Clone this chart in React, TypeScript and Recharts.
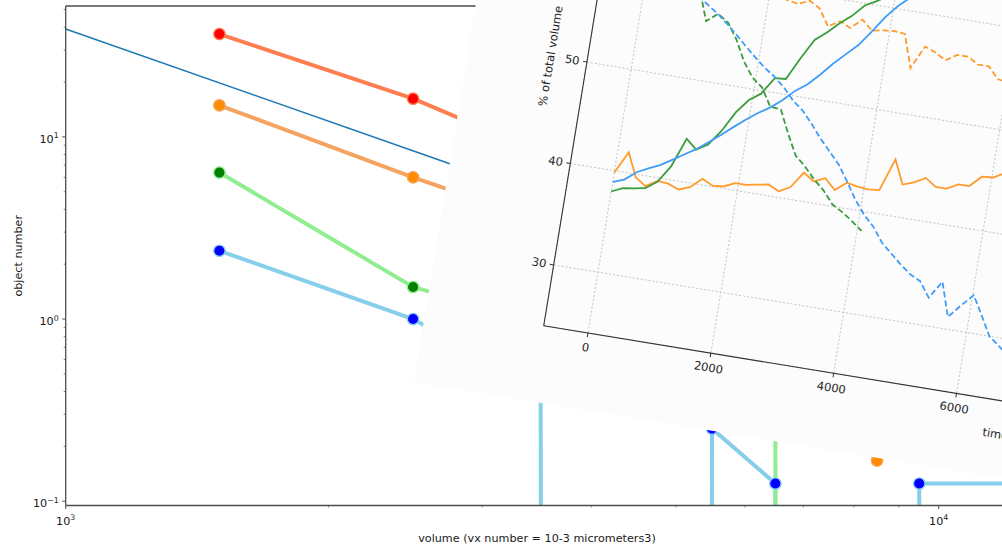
import React from 'react';
import { LineChart, Line, XAxis, YAxis, CartesianGrid, ReferenceLine } from 'recharts';

// main log-log plot: object counts per volume bin
const volumes = [1500, 2500, 3500, 4500, 5500, 6500, 7500, 8500, 9500, 12500];
const redCounts = [36.7, 16.2, 8.2, 5.0, 3.4, 2.5, 1.9, 1.4, 1.1, null];
const orangeCounts = [14.9, 6.0, 3.45, 2.0, 1.2, 0.75, 0.33, 0.167, 0.33, null];
const greenCounts = [6.37, 1.5, 0.94, 0.55, 0.45, 0.33, 0, 0, 0, null];
const blueCounts = [2.37, 1.0, 0.4, 0, 0.25, 0.125, 0, 0, 0.125, 0.125];

// reference power law
const refVolumes = [1000, 12000];
const refCounts = [39.1, 0.6];

const xTicks = [1000, 2000, 3000, 4000, 5000, 6000, 7000, 8000, 9000, 10000];
const yTicks = [0.1, 0.2, 0.3, 0.4, 0.5, 0.6, 0.7, 0.8, 0.9, 1, 2, 3, 4, 5, 6, 7, 8, 9, 10, 20, 30, 40, 50];

// pasted screenshot: % of total volume over time
const times = [0, 177, 354, 531, 708, 885, 1062, 1239, 1416, 1593, 1770, 1947, 2124, 2301, 2478, 2655, 2832, 3009, 3186, 3363, 3540, 3717, 3894, 4071, 4248, 4425, 4602, 4779, 4956, 5133, 5310, 5487, 5664, 5841, 6018, 6195, 6372, 6549, 6726, 6903, 7080];
const blueSolid = [38.9, 39.3, 40.2, 40.75, 41.25, 41.95, 42.65, 43.35, 44.2, 45.1, 46.05, 46.95, 47.8, 48.5, 49.4, 50.5, 51.3, 52.45, 53.7, 54.8, 55.9, 57.4, 59.0, 60.3, 61.3, 62.7, 63.6, 64.5, 65.3, 65.8, 67.25, 65.5, 68.8, 67.5, 66.3, 68.1, 70.0, 70.8, 71.6, 72.3, 73.0];
const blueDashed = [61.1, 60.7, 59.8, 59.25, 58.75, 58.05, 57.35, 56.65, 55.8, 54.9, 53.95, 53.05, 52.2, 51.5, 50.6, 49.5, 48.7, 47.55, 46.3, 45.2, 44.1, 42.6, 41.0, 39.7, 38.7, 37.3, 36.4, 35.5, 34.7, 34.2, 32.75, 34.5, 31.2, 32.5, 33.7, 31.9, 30.0, 29.2, 28.4, 27.7, 27.0];
const orangeSolid = [39.8, 42.0, 39.7, 39.0, 39.7, 39.6, 39.2, 39.6, 40.6, 40.1, 40.2, 40.7, 40.7, 40.9, 41.1, 40.6, 41.2, 42.8, 42.1, 42.6, 41.6, 42.5, 42.3, 42.2, 42.3, 45.5, 43.2, 43.6, 44.2, 43.5, 43.5, 44.1, 44.1, 45.2, 45.3, 45.9, 46.2, 45.8, 46.5, 46.9, 46.4];
const orangeDashed = [60.2, 58.0, 60.3, 61.0, 60.3, 60.4, 60.8, 60.4, 59.4, 59.9, 59.8, 59.3, 59.3, 59.1, 58.9, 59.4, 58.8, 57.2, 57.9, 57.4, 58.4, 57.5, 57.7, 57.8, 57.7, 54.5, 56.8, 56.4, 55.8, 56.5, 56.5, 55.9, 55.9, 54.8, 54.7, 54.1, 53.8, 54.2, 53.5, 53.1, 53.6];
const greenSolid = [37.95, 38.45, 38.6, 38.8, 39.6, 41.3, 44.2, 43.3, 44.0, 45.5, 47.5, 48.9, 49.7, 51.4, 51.5, 53.7, 55.7, 56.6, 57.7, 58.6, 59.8, 60.4, 61.1, 61.9];
const greenDashed = [62.05, 61.55, 61.4, 61.2, 60.4, 58.7, 55.8, 56.7, 56.0, 54.5, 52.5, 51.1, 50.3, 48.6, 48.5, 46.3, 44.3, 43.4, 42.3, 41.4, 40.2, 39.6, 38.9, 38.1];
const timeTicks = [0, 2000, 4000, 6000, 8000, 10000, 12000, 14000];
const pctTicks = [30, 40, 50, 60, 70];

const X_MIN = 1000;
const X_MAX = 12016;
const Y_MIN = 0.0947;
const Y_MAX = 52.3;
// zero counts can't sit on a log axis; push them far below like matplotlib's clip
const CLIP = 1e-300;

const INSET_W = 1155;
const INSET_H = 650.56;

const AXIS = '#4d4d4d';
const TXT = '#1a1a1a';

const linePoints = (xs: number[], ys: (number | null)[]) =>
  xs
    .map((x, i) => ({ x, y: ys[i] }))
    .filter((p) => p.y !== null && p.y !== undefined)
    .map((p) => ({ x: p.x, y: (p.y as number) <= 0 ? CLIP : p.y }));

const markerPoints = (xs: number[], ys: (number | null)[]) =>
  xs.map((x, i) => ({ x, y: ys[i] })).filter((p) => p.y !== null && (p.y as number) > 0);

const expLabel = (e: number) => (e < 0 ? '\u2212' + Math.abs(e) : String(e));

function LogXTick(props: any) {
  const { x, y, payload } = props;
  const lg = Math.log10(payload.value);
  const e = Math.round(lg);
  const major = Math.abs(lg - e) < 1e-6;
  return (
    <g>
      <line x1={x} x2={x} y1={y} y2={y + (major ? 3.5 : 2)} stroke={AXIS} strokeWidth={major ? 1 : 0.7} />
      {major && (
        <text x={x} y={y + 19} textAnchor="middle" fontSize={11.2} fill={TXT}>
          10<tspan dy={-4.5} fontSize={7.8}>{expLabel(e)}</tspan>
        </text>
      )}
    </g>
  );
}

function LogYTick(props: any) {
  const { x, y, payload } = props;
  const lg = Math.log10(payload.value);
  const e = Math.round(lg);
  const major = Math.abs(lg - e) < 1e-6;
  return (
    <g>
      <line x1={x} x2={x - (major ? 3.5 : 2)} y1={y} y2={y} stroke={AXIS} strokeWidth={major ? 1 : 0.7} />
      {major && (
        <text x={x - 7} y={y + 6} textAnchor="end" fontSize={11.2} fill={TXT}>
          10<tspan dy={-4.5} fontSize={7.8}>{expLabel(e)}</tspan>
        </text>
      )}
    </g>
  );
}

const series = [
  { name: 'red', counts: redCounts, line: '#ff7f50', face: '#ff0000' },
  { name: 'orange', counts: orangeCounts, line: '#f4a460', face: '#ff8c00' },
  { name: 'blue', counts: blueCounts, line: '#87ceeb', face: '#0000ff' },
  { name: 'green', counts: greenCounts, line: '#90ee90', face: '#008000' },
];
const markerOrder = ['red', 'orange', 'green', 'blue'];

const insetRows = times.map((t, i) => ({
  t,
  blueSolid: blueSolid[i],
  blueDashed: blueDashed[i],
  orangeSolid: orangeSolid[i],
  orangeDashed: orangeDashed[i],
  greenSolid: greenSolid[i],
  greenDashed: greenDashed[i],
}));

const INSET_BLUE = '#3f9cf7';
const INSET_ORANGE = '#ff9b2a';
const INSET_GREEN = '#3c9c3c';

export default function App() {
  return (
    <div
      style={{
        position: 'absolute',
        left: 0,
        top: 0,
        width: 1002,
        height: 549,
        overflow: 'hidden',
        background: '#ffffff',
        fontFamily: '"DejaVu Sans", sans-serif',
      }}
    >
      <LineChart width={1010} height={549} margin={{ top: 6, right: 1.7, bottom: 0, left: 0 }}>
        <XAxis
          dataKey="x"
          type="number"
          scale="log"
          domain={[X_MIN, X_MAX]}
          allowDataOverflow
          ticks={xTicks}
          interval={0}
          tick={<LogXTick />}
          tickLine={false}
          tickSize={0}
          tickMargin={0}
          height={43.5}
          axisLine={{ stroke: AXIS, strokeWidth: 1.3 }}
          label={{
            value: 'volume (vx number = 10-3 micrometers3)',
            position: 'insideBottom',
            offset: 7.5,
            fontSize: 11.2,
            fill: TXT,
          }}
        />
        <YAxis
          type="number"
          scale="log"
          domain={[Y_MIN, Y_MAX]}
          allowDataOverflow
          ticks={yTicks}
          interval={0}
          tick={<LogYTick />}
          tickLine={false}
          tickSize={0}
          tickMargin={0}
          width={65.7}
          axisLine={{ stroke: AXIS, strokeWidth: 1.3 }}
          label={{
            value: 'object number',
            angle: -90,
            position: 'insideLeft',
            offset: 18.5,
            fontSize: 11.2,
            fill: TXT,
            style: { textAnchor: 'middle' },
          }}
        />
        <ReferenceLine y={Y_MAX} stroke={AXIS} strokeWidth={1.3} />
        <Line
          data={linePoints(refVolumes, refCounts)}
          dataKey="y"
          type="linear"
          stroke="#1f77b4"
          strokeWidth={1.5}
          dot={false}
          activeDot={false}
          isAnimationActive={false}
        />
        {series.map((s) => (
          <Line
            key={s.name}
            data={linePoints(volumes, s.counts)}
            dataKey="y"
            type="linear"
            stroke={s.line}
            strokeWidth={4}
            dot={false}
            activeDot={false}
            isAnimationActive={false}
          />
        ))}
        {markerOrder.map((n) => {
          const s = series.find((q) => q.name === n)!;
          return (
            <Line
              key={n + '-marks'}
              data={markerPoints(volumes, s.counts)}
              dataKey="y"
              type="linear"
              stroke="none"
              dot={{ r: 5.7, fill: s.face, stroke: s.line, strokeWidth: 1.3 }}
              activeDot={false}
              isAnimationActive={false}
            />
          );
        })}
      </LineChart>

      <div
        style={{
          position: 'absolute',
          left: 414,
          top: 382 - INSET_H,
          width: INSET_W,
          height: INSET_H,
          background: '#fcfcfc',
          transform: 'rotate(9.3deg)',
          transformOrigin: '0 100%',
        }}
      >
        <LineChart
          width={INSET_W}
          height={INSET_H}
          data={insetRows}
          margin={{ top: 40, right: 50, bottom: 36, left: 79 }}
        >
          <CartesianGrid stroke="#b8b8b8" strokeDasharray="2 2" strokeWidth={0.8} />
          <XAxis
            dataKey="t"
            type="number"
            domain={[-720, 15120]}
            ticks={timeTicks}
            interval={0}
            height={40}
            tickSize={4}
            tickMargin={6.4}
            axisLine={{ stroke: '#333', strokeWidth: 1.1 }}
            tickLine={{ stroke: '#333' }}
            tick={{ fill: '#262626', fontSize: 11.5 }}
            label={{
              value: 'time (seconds)',
              position: 'insideTop',
              offset: 29.5,
              fontSize: 11.5,
              fill: '#262626',
            }}
          />
          <YAxis
            type="number"
            domain={[24, 76]}
            ticks={pctTicks}
            interval={0}
            width={40}
            tickSize={4}
            tickMargin={3.5}
            axisLine={{ stroke: '#333', strokeWidth: 1.1 }}
            tickLine={{ stroke: '#333' }}
            tick={{ fill: '#262626', fontSize: 11.5 }}
            label={{
              value: '% of total volume',
              angle: -90,
              position: 'insideLeft',
              offset: 3,
              fontSize: 11.5,
              fill: '#262626',
              style: { textAnchor: 'middle' },
            }}
          />
          <Line dataKey="orangeSolid" type="linear" stroke={INSET_ORANGE} strokeWidth={1.8} dot={false} activeDot={false} isAnimationActive={false} />
          <Line dataKey="orangeDashed" type="linear" stroke={INSET_ORANGE} strokeWidth={1.8} strokeDasharray="6 3" dot={false} activeDot={false} isAnimationActive={false} />
          <Line dataKey="greenSolid" type="linear" stroke={INSET_GREEN} strokeWidth={1.8} dot={false} activeDot={false} isAnimationActive={false} />
          <Line dataKey="greenDashed" type="linear" stroke={INSET_GREEN} strokeWidth={1.8} strokeDasharray="6 3" dot={false} activeDot={false} isAnimationActive={false} />
          <Line dataKey="blueSolid" type="linear" stroke={INSET_BLUE} strokeWidth={1.8} dot={false} activeDot={false} isAnimationActive={false} />
          <Line dataKey="blueDashed" type="linear" stroke={INSET_BLUE} strokeWidth={1.8} strokeDasharray="6 3" dot={false} activeDot={false} isAnimationActive={false} />
        </LineChart>
      </div>
    </div>
  );
}
